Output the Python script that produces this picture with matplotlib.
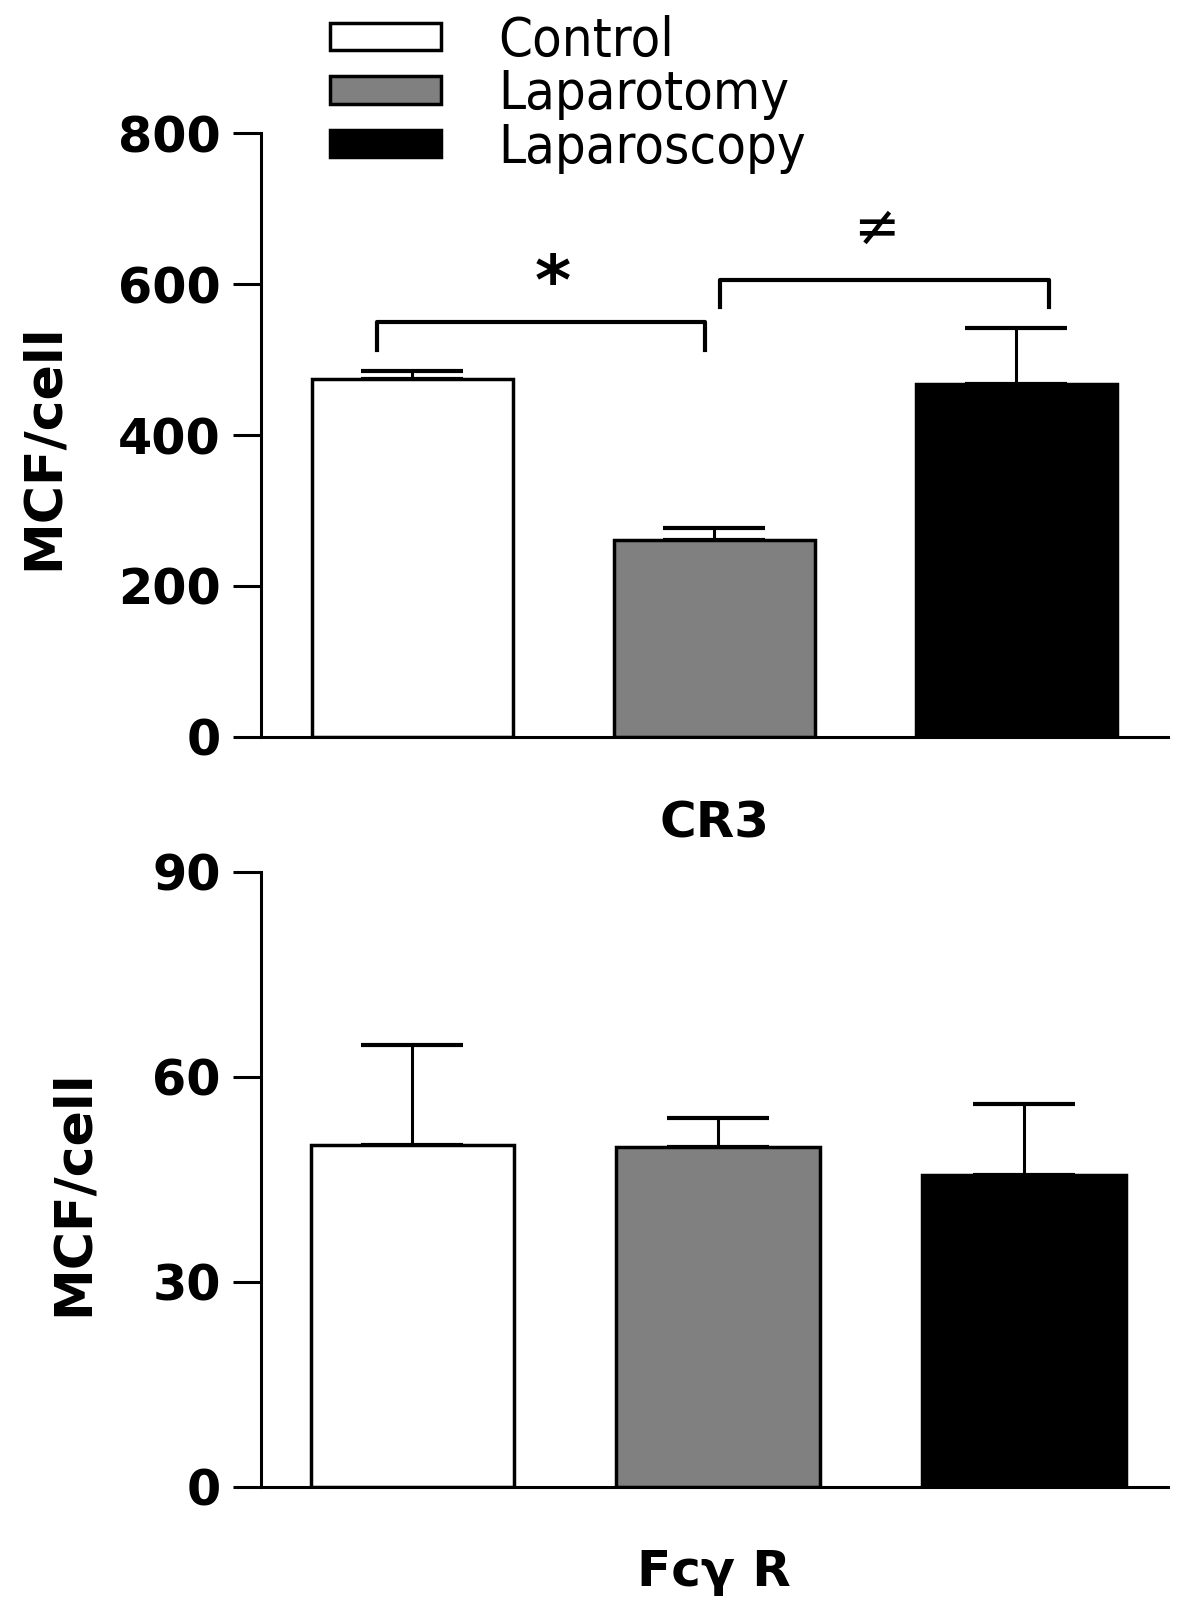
import matplotlib
matplotlib.use("Agg")
import matplotlib.pyplot as plt
from matplotlib import font_manager
from matplotlib.patches import Patch

# Data
groups = ["Control", "Laparotomy", "Laparoscopy"]
colors = ["white", "#808080", "black"]

cr3_mean = [474, 261, 468]
cr3_err = [11, 16, 74]

fcr_mean = [50.1, 49.8, 45.6]
fcr_err = [14.6, 4.2, 10.5]

cr3_ticks = [0, 200, 400, 600, 800]
fcr_ticks = [0, 30, 60, 90]

plt.rcParams["font.family"] = ["DejaVu Sans"]

fig = plt.figure(figsize=(12, 16.07), dpi=100)
ax1 = fig.add_axes([0.2175, 0.5414, 0.7555, 0.3758])
ax2 = fig.add_axes([0.2175, 0.0747, 0.7555, 0.3827])

x = [0, 1, 2]
width = 0.665


def style_axis(ax, ticks, xlabel, pad):
    ax.set_yticks(ticks)
    ax.set_ylim(ticks[0], ticks[-1])
    ax.set_xticks([])
    for s in ["top", "right"]:
        ax.spines[s].set_visible(False)
    for s in ["left", "bottom"]:
        ax.spines[s].set_linewidth(2.2)
    ax.tick_params(axis="y", length=20, width=2.2, pad=9, labelsize=35.5)
    for lab in ax.get_yticklabels():
        lab.set_fontweight("bold")
    ax.set_ylabel("MCF/cell", fontsize=37.5, fontweight="bold")
    ax.set_xlabel(xlabel, fontsize=36, fontweight="bold", labelpad=pad)


# CR3 panel
ax1.bar(x, cr3_mean, width, color=colors, edgecolor="black", linewidth=2.5, zorder=2)
ax1.errorbar(x, cr3_mean, yerr=[[0, 0, 0], cr3_err], fmt="none", ecolor="black",
             elinewidth=2.2, capsize=37, capthick=3, zorder=1)
ax1.set_xlim(-0.5, 2.5)
style_axis(ax1, cr3_ticks, "CR3", 45)
ax1.yaxis.set_label_coords(-0.212, 0.48)

# significance brackets
ax1.plot([-0.116, -0.116, 0.97, 0.97], [513, 550, 550, 513], color="black", lw=3, clip_on=False)
ax1.plot([1.02, 1.02, 2.106, 2.106], [569, 606, 606, 569], color="black", lw=3, clip_on=False)
ax1.text(0.467, 600, "*", fontsize=50, fontweight="bold", ha="center", va="center")
ax1.text(1.536, 672, "\u2260", fontsize=40, ha="center", va="center")

# Fc gamma R panel
ax2.bar(x, fcr_mean, width, color=colors, edgecolor="black", linewidth=2.5, zorder=2)
ax2.errorbar(x, fcr_mean, yerr=[[0, 0, 0], fcr_err], fmt="none", ecolor="black",
             elinewidth=2.2, capsize=37, capthick=3, zorder=1)
ax2.set_xlim(-0.495, 2.47)
style_axis(ax2, fcr_ticks, "Fc\u03b3 R", 44)
ax2.yaxis.set_label_coords(-0.179, 0.478)

# legend
handles = [Patch(facecolor=c, edgecolor="black", linewidth=2.5) for c in colors]
leg = fig.legend(handles, groups, loc="upper left", bbox_to_anchor=(0.248, 1.011),
                 frameon=False,
                 prop=font_manager.FontProperties(family="DejaVu Sans", stretch="condensed", size=39),
                 handlelength=2.05, handleheight=0.4, handletextpad=1.05, labelspacing=0.03,
                 borderpad=0.1)

fig.savefig("out.png", dpi=100)
